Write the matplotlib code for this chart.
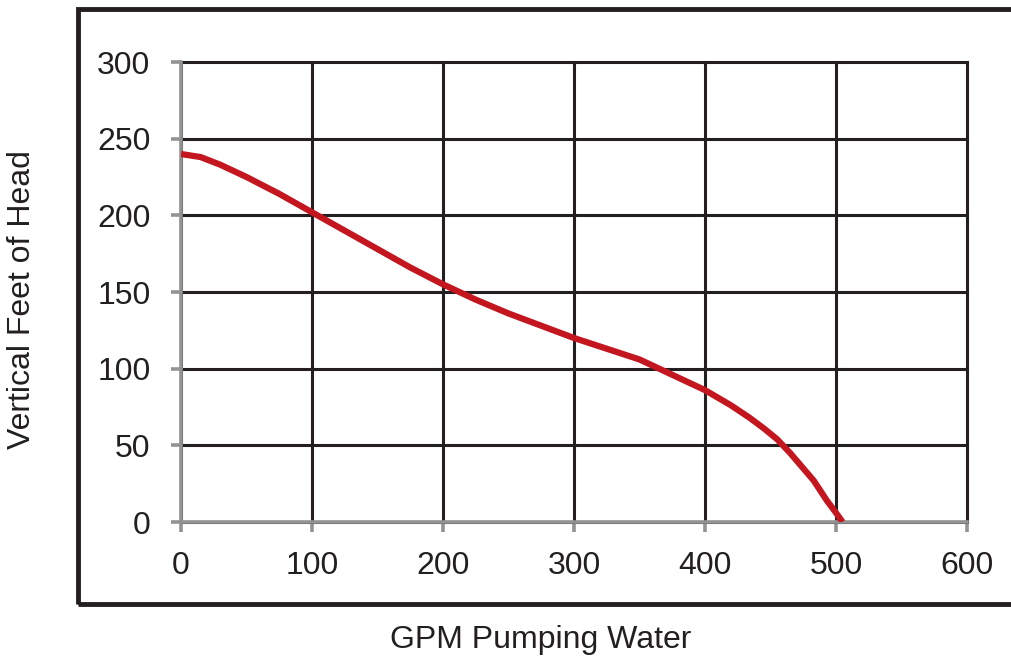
import matplotlib
matplotlib.use("Agg")
import matplotlib.pyplot as plt
from matplotlib.patches import Rectangle

# pump curve
gpm = [0, 15, 30, 50, 75, 100, 125, 150, 175, 200, 225, 250, 275, 300, 325,
       350, 365, 385, 400, 420, 434, 445, 455, 465, 472, 483, 493, 500, 505]
head = [240, 238, 233, 225, 214, 202, 190, 178, 166, 155, 145, 136, 128, 120, 113,
        106, 100, 92, 86, 76, 68, 61, 54, 45, 38, 27, 14, 6, 0]

x_ticks = [0, 100, 200, 300, 400, 500, 600]
y_ticks = [0, 50, 100, 150, 200, 250, 300]

plt.rcParams['font.family'] = ['Liberation Sans', 'DejaVu Sans']

W, H = 1012, 661
fig = plt.figure(figsize=(W / 100, H / 100), dpi=100)
ax = fig.add_axes([181 / W, 1 - 522 / H, (967 - 181) / W, (522 - 62) / H])

ax.plot(gpm, head, color='#c3161f', linewidth=4.5, solid_capstyle='butt',
        solid_joinstyle='round', zorder=4)

ax.set_xlim(0, 600)
ax.set_ylim(0, 300)
ax.set_xticks(x_ticks)
ax.set_yticks(y_ticks)
ax.grid(True, color='#231f20', linewidth=2.2, zorder=1)
ax.set_axisbelow(True)
for gl in ax.get_xgridlines() + ax.get_ygridlines():
    gl.set_clip_on(False)

for s in ['top', 'right']:
    ax.spines[s].set_visible(False)
for s in ['left', 'bottom']:
    ax.spines[s].set_color('#939393')
    ax.spines[s].set_linewidth(2.6)
    ax.spines[s].set_zorder(3)

ax.tick_params(axis='both', colors='#939393', width=2.6, length=7, labelsize=23,
               labelcolor='#231f20')
ax.tick_params(axis='y', pad=15)
ax.tick_params(axis='x', pad=14)

# outer frame
fig.patches.append(Rectangle((78 / W, 1 - 604 / H), (1016 - 78) / W, (604 - 9) / H,
                             transform=fig.transFigure, fill=False,
                             edgecolor='#231f20', linewidth=3.5))

fig.text(541 / W, 1 - 640 / H, 'GPM Pumping Water', ha='center', va='center',
         fontsize=23, color='#231f20')
fig.text(22 / W, 1 - 300 / H, 'Vertical Feet of Head', ha='center', va='center',
         rotation=90, fontsize=23, color='#231f20')

fig.savefig('out.png', dpi=100)
